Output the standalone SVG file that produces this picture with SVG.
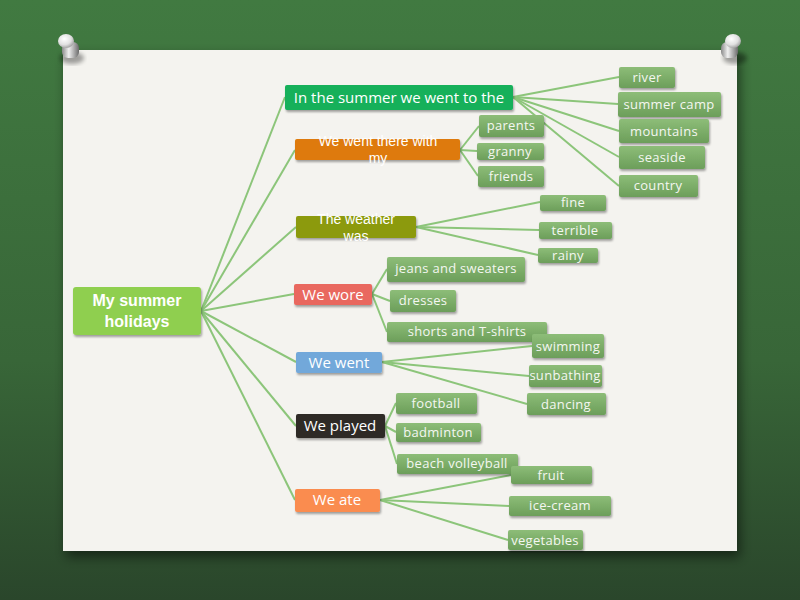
<svg xmlns="http://www.w3.org/2000/svg" width="800" height="600" viewBox="0 0 800 600">
<defs>
<linearGradient id="bg" x1="0" y1="0" x2="0" y2="1">
<stop offset="0" stop-color="#417a41"/>
<stop offset="0.6" stop-color="#386638"/>
<stop offset="1" stop-color="#2a462b"/>
</linearGradient>
<linearGradient id="leaf" x1="0" y1="0" x2="0" y2="1">
<stop offset="0" stop-color="#8dbd78"/>
<stop offset="1" stop-color="#6c9e5a"/>
</linearGradient>
<radialGradient id="pinhead" cx="0.4" cy="0.35" r="0.7">
<stop offset="0" stop-color="#ffffff"/>
<stop offset="0.6" stop-color="#e0e0e0"/>
<stop offset="1" stop-color="#9a9a9a"/>
</radialGradient>
<linearGradient id="pinbody" x1="0" y1="0" x2="1" y2="0">
<stop offset="0" stop-color="#8a8a8a"/>
<stop offset="0.4" stop-color="#f0f0f0"/>
<stop offset="1" stop-color="#6a6a6a"/>
</linearGradient>
<filter id="sh" x="-20%" y="-20%" width="150%" height="170%">
<feDropShadow dx="1" dy="2" stdDeviation="1.2" flood-color="#000" flood-opacity="0.35"/>
</filter>
<filter id="cardsh" x="-10%" y="-10%" width="120%" height="130%">
<feDropShadow dx="3" dy="6" stdDeviation="6" flood-color="#000" flood-opacity="0.5"/>
</filter>
<filter id="blur"><feGaussianBlur stdDeviation="2"/></filter>
<style>
.leaf{fill:url(#leaf);filter:url(#sh);}
.lt{font-family:"Open Sans","Liberation Sans",sans-serif;font-size:13px;fill:#f4f7f1;text-anchor:middle;letter-spacing:0.3px;}
.bt{font-family:"Open Sans","Liberation Sans",sans-serif;font-size:15px;fill:#ffffff;text-anchor:middle;}
.b2{font-family:"Liberation Sans",Arial,sans-serif;font-size:14px;fill:#ffffff;text-anchor:middle;}
.br{filter:url(#sh);}
.con line{stroke:#8cc57a;stroke-width:2;}
</style>
</defs>
<rect width="800" height="600" fill="url(#bg)"/>
<rect x="63" y="50" width="674" height="501" fill="#f4f3ef" filter="url(#cardsh)"/>

<g id="pin-left">
<ellipse cx="72" cy="58" rx="12" ry="6" fill="#000" opacity="0.35" filter="url(#blur)"/>
<rect x="62" y="42" width="17" height="16" rx="6" fill="url(#pinbody)"/>
<ellipse cx="66" cy="41" rx="8" ry="7" fill="url(#pinhead)"/>
</g>
<g id="pin-right">
<ellipse cx="735" cy="58" rx="12" ry="6" fill="#000" opacity="0.35" filter="url(#blur)"/>
<rect x="721" y="42" width="17" height="16" rx="6" fill="url(#pinbody)"/>
<ellipse cx="733" cy="41" rx="8" ry="7" fill="url(#pinhead)"/>
</g>

<g id="connectors" class="con">
<line x1="201" y1="311" x2="285" y2="97"/>
<line x1="201" y1="311" x2="295" y2="150"/>
<line x1="201" y1="311" x2="296" y2="227"/>
<line x1="201" y1="311" x2="294" y2="294"/>
<line x1="201" y1="311" x2="296" y2="362"/>
<line x1="201" y1="311" x2="296" y2="426"/>
<line x1="201" y1="311" x2="295" y2="500"/>
<line x1="513" y1="97" x2="619" y2="77"/>
<line x1="513" y1="97" x2="618" y2="104"/>
<line x1="513" y1="97" x2="619" y2="131"/>
<line x1="513" y1="97" x2="619" y2="157"/>
<line x1="513" y1="97" x2="619" y2="186"/>
<line x1="460" y1="150" x2="479" y2="126"/>
<line x1="460" y1="150" x2="477" y2="151"/>
<line x1="460" y1="150" x2="478" y2="176"/>
<line x1="416" y1="227" x2="540" y2="202"/>
<line x1="416" y1="227" x2="539" y2="230"/>
<line x1="416" y1="227" x2="538" y2="255"/>
<line x1="372" y1="294" x2="387" y2="269"/>
<line x1="372" y1="294" x2="390" y2="301"/>
<line x1="372" y1="294" x2="387" y2="332"/>
<line x1="382" y1="362" x2="532" y2="346"/>
<line x1="382" y1="362" x2="529" y2="376"/>
<line x1="382" y1="362" x2="527" y2="404"/>
<line x1="385" y1="426" x2="396" y2="403"/>
<line x1="385" y1="426" x2="396" y2="432"/>
<line x1="385" y1="426" x2="397" y2="464"/>
<line x1="380" y1="500" x2="511" y2="475"/>
<line x1="380" y1="500" x2="509" y2="506"/>
<line x1="380" y1="500" x2="508" y2="540"/>
</g>

<g id="root">
<rect x="73" y="287" width="128" height="48" rx="3" fill="#8fcf50" filter="url(#sh)"/>
<text x="137" y="306" font-family="'Liberation Sans',Arial,sans-serif" font-weight="bold" font-size="16" fill="#fff" text-anchor="middle">My summer</text>
<text x="137" y="327" font-family="'Liberation Sans',Arial,sans-serif" font-weight="bold" font-size="16" fill="#fff" text-anchor="middle">holidays</text>
</g>

<g id="went-to">
<rect class="br" x="285" y="85" width="228" height="25" rx="2" fill="#14b05a"/>
<text class="bt" x="399" y="103">In the summer we went to the</text>
</g>
<g id="went-with">
<rect class="br" x="295" y="139" width="165" height="21" rx="2" fill="#de7a08"/>
<text class="b2" x="378" y="146">We went there with</text>
<text class="b2" x="378" y="163">my</text>
</g>
<g id="weather">
<rect class="br" x="296" y="216" width="120" height="22" rx="2" fill="#8c9a0c"/>
<text class="b2" x="356" y="224">The weather</text>
<text class="b2" x="356" y="241">was</text>
</g>
<g id="wore">
<rect class="br" x="294" y="284" width="78" height="21" rx="2" fill="#e9685e"/>
<text class="bt" x="333" y="300">We wore</text>
</g>
<g id="we-went">
<rect class="br" x="296" y="352" width="86" height="21" rx="2" fill="#72a8da"/>
<text class="bt" x="339" y="368">We went</text>
</g>
<g id="played">
<rect class="br" x="296" y="414" width="89" height="24" rx="2" fill="#2f2b27"/>
<text class="bt" x="340" y="431">We played</text>
</g>
<g id="ate">
<rect class="br" x="295" y="489" width="85" height="23" rx="2" fill="#fa8c50"/>
<text class="bt" x="337" y="505">We ate</text>
</g>

<g id="river"><rect class="leaf" x="619" y="67" width="56" height="21" rx="2"/><text class="lt" x="647" y="82">river</text></g>
<g id="summer-camp"><rect class="leaf" x="618" y="92" width="103" height="25" rx="2"/><text class="lt" x="669" y="109">summer camp</text></g>
<g id="mountains"><rect class="leaf" x="619" y="119" width="90" height="24" rx="2"/><text class="lt" x="664" y="136">mountains</text></g>
<g id="seaside"><rect class="leaf" x="619" y="146" width="86" height="23" rx="2"/><text class="lt" x="662" y="162">seaside</text></g>
<g id="country"><rect class="leaf" x="619" y="175" width="79" height="22" rx="2"/><text class="lt" x="658" y="190">country</text></g>

<g id="parents"><rect class="leaf" x="479" y="115" width="65" height="22" rx="2"/><text class="lt" x="511" y="130">parents</text></g>
<g id="granny"><rect class="leaf" x="477" y="143" width="67" height="17" rx="2"/><text class="lt" x="510" y="156">granny</text></g>
<g id="friends"><rect class="leaf" x="478" y="166" width="66" height="21" rx="2"/><text class="lt" x="511" y="181">friends</text></g>

<g id="fine"><rect class="leaf" x="540" y="195" width="66" height="16" rx="2"/><text class="lt" x="573" y="207">fine</text></g>
<g id="terrible"><rect class="leaf" x="539" y="222" width="73" height="17" rx="2"/><text class="lt" x="575" y="235">terrible</text></g>
<g id="rainy"><rect class="leaf" x="538" y="248" width="60" height="15" rx="2"/><text class="lt" x="568" y="260">rainy</text></g>

<g id="jeans"><rect class="leaf" x="387" y="257" width="138" height="25" rx="2"/><text class="lt" x="456" y="273">jeans and sweaters</text></g>
<g id="dresses"><rect class="leaf" x="390" y="290" width="66" height="22" rx="2"/><text class="lt" x="423" y="305">dresses</text></g>
<g id="shorts"><rect class="leaf" x="387" y="322" width="160" height="20" rx="2"/><text class="lt" x="467" y="336">shorts and T-shirts</text></g>

<g id="swimming"><rect class="leaf" x="532" y="334" width="72" height="24" rx="2"/><text class="lt" x="568" y="351">swimming</text></g>
<g id="sunbathing"><rect class="leaf" x="529" y="365" width="73" height="22" rx="2"/><text class="lt" x="565" y="380">sunbathing</text></g>
<g id="dancing"><rect class="leaf" x="527" y="393" width="79" height="22" rx="2"/><text class="lt" x="566" y="409">dancing</text></g>

<g id="football"><rect class="leaf" x="396" y="393" width="81" height="21" rx="2"/><text class="lt" x="436" y="408">football</text></g>
<g id="badminton"><rect class="leaf" x="396" y="423" width="85" height="19" rx="2"/><text class="lt" x="438" y="437">badminton</text></g>
<g id="beach-volleyball"><rect class="leaf" x="397" y="454" width="121" height="20" rx="2"/><text class="lt" x="457" y="468">beach volleyball</text></g>

<g id="fruit"><rect class="leaf" x="511" y="466" width="81" height="18" rx="2"/><text class="lt" x="551" y="480">fruit</text></g>
<g id="ice-cream"><rect class="leaf" x="509" y="496" width="102" height="20" rx="2"/><text class="lt" x="560" y="510">ice-cream</text></g>
<g id="vegetables"><rect class="leaf" x="508" y="530" width="75" height="20" rx="2"/><text class="lt" x="545" y="545">vegetables</text></g>
</svg>
